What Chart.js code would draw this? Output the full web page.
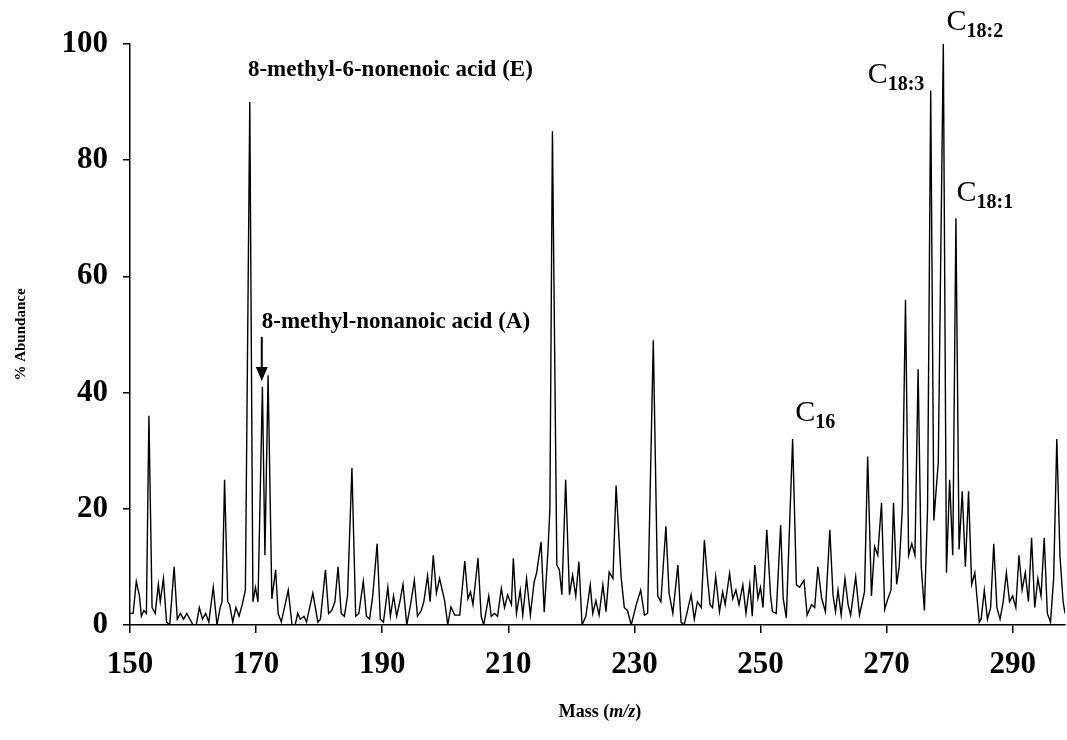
<!DOCTYPE html>
<html>
<head>
<meta charset="utf-8">
<script src="https://cdn.jsdelivr.net/npm/chart.js@4.4.0/dist/chart.umd.min.js"></script>
<style>
  html, body { margin: 0; padding: 0; background: #fff; }
  #contenedor { width: 1067px; height: 740px; }
</style>
</head>
<body>
<div id="contenedor"><canvas id="espectro" width="1067" height="740"></canvas></div>
<script>
const masa = [
  150.0, 150.5, 151.0, 151.5, 151.8, 152.2, 152.6, 153.0, 153.5, 154.0, 154.5, 154.8, 155.3, 155.8, 156.3, 157.0, 157.5, 158.0, 158.5, 159.0,
  159.5, 160.0, 160.5, 161.0, 161.5, 162.0, 162.5, 163.2, 163.8, 164.3, 164.6, 165.0, 165.5, 165.8, 166.3, 166.8, 167.3, 167.8, 168.3, 169.0,
  169.5, 169.9, 170.3, 171.0, 171.4, 171.9, 172.5, 173.1, 173.5, 174.0, 175.1, 175.7, 176.2, 176.6, 177.0, 177.6, 178.0, 179.0, 179.8, 180.2,
  181.0, 181.5, 182.0, 182.5, 183.0, 183.5, 184.0, 184.5, 185.2, 185.8, 186.3, 187.0, 187.5, 188.0, 188.5, 189.2, 189.7, 190.2, 190.9, 191.3,
  191.8, 192.3, 192.8, 193.3, 193.9, 194.5, 195.1, 195.6, 196.2, 196.6, 197.2, 197.6, 198.1, 198.6, 199.1, 199.9, 200.4, 200.9, 201.5, 202.3,
  203.1, 203.6, 204.0, 204.4, 205.2, 205.7, 206.1, 206.9, 207.3, 207.8, 208.3, 208.9, 209.4, 209.9, 210.5, 210.8, 211.3, 211.9, 212.3, 212.9,
  213.5, 214.1, 214.5, 215.2, 215.7, 216.3, 216.6, 217.0, 217.7, 218.1, 218.5, 219.1, 219.7, 220.2, 220.7, 221.2, 221.7, 222.3, 223.0, 223.4,
  223.9, 224.4, 225.0, 225.5, 226.0, 226.6, 227.1, 227.9, 228.4, 228.9, 229.5, 230.3, 231.0, 231.6, 232.1, 233.0, 233.7, 234.2, 235.0, 235.5,
  236.1, 236.9, 237.4, 237.9, 239.0, 239.5, 240.0, 240.6, 241.1, 241.6, 242.0, 242.4, 242.9, 243.5, 244.0, 244.4, 245.1, 245.6, 246.1, 246.6,
  247.2, 247.7, 248.3, 248.7, 249.1, 249.6, 250.0, 250.4, 251.0, 251.6, 251.9, 252.5, 253.2, 253.6, 254.1, 255.1, 255.7, 256.2, 256.9, 257.4,
  258.1, 258.6, 259.1, 259.7, 260.3, 261.0, 261.5, 261.9, 262.3, 262.8, 263.4, 263.9, 264.3, 265.1, 265.7, 266.5, 267.0, 267.6, 268.1, 268.6,
  269.2, 269.7, 270.2, 270.7, 271.1, 271.6, 272.0, 272.5, 273.0, 273.5, 274.0, 274.5, 275.0, 275.5, 276.0, 276.5, 277.0, 277.5, 278.2, 279.0,
  279.5, 280.0, 280.5, 281.0, 281.5, 282.0, 282.5, 283.0, 283.5, 284.0, 284.4, 284.7, 285.0, 285.5, 286.0, 286.5, 287.0, 287.5, 288.0, 288.5,
  289.0, 289.5, 290.0, 290.5, 291.0, 291.5, 292.0, 292.5, 293.0, 293.5, 294.0, 294.5, 295.0, 295.5, 296.0, 296.5, 297.0, 297.5, 298.0, 298.3
];

// % de abundancia en cada punto
const abundancia = [
  2, 2, 7.5, 5, 1.5, 2.5, 2, 36, 3, 2, 7, 4, 8, 0.5, 0, 10, 1, 2, 1, 2,
  1, 0, 0, 3, 1, 2, 0.5, 6.5, 0, 3, 4, 25, 4, 3.5, 0.5, 3, 1.5, 3.5, 6, 90,
  4, 6.5, 4, 41, 12, 43, 4.5, 9.5, 2, 0.5, 6, 0, 0, 2, 1, 1.5, 0.5, 5.5, 0.5, 1,
  9.5, 2, 2.5, 4, 10, 2, 1.5, 5, 27, 1.5, 2, 7.5, 1.5, 1, 5, 14, 1, 0.5, 6.5, 1.5,
  5, 1.5, 4, 7, 0, 3.5, 7.7, 1.5, 2.5, 4, 8.5, 4, 12, 5.5, 8, 4.2, 0, 3.1, 1.7, 1.7,
  11, 4.5, 5.7, 3.5, 11.5, 1.5, 0, 5, 1.5, 2, 1.5, 6.3, 3, 5.2, 3.5, 11.5, 2, 6, 1.7, 8,
  1.7, 7.4, 9, 14.3, 2.2, 13, 20, 85, 10.3, 9.5, 5.2, 25, 5.2, 8.6, 5, 10.9, 0, 1.5, 6.9, 2,
  4.2, 1.7, 6.9, 2.3, 9.1, 8, 24, 8.2, 3, 2.5, 0, 3.5, 6, 1.7, 2, 49, 5, 4, 17, 5.5,
  2, 10.3, 0.5, 0, 5.2, 1, 4, 3, 14.6, 8, 3.5, 3, 8.3, 2.3, 5.7, 3.5, 8.9, 4.5, 6, 3.5,
  6.9, 2, 7, 1.5, 10.3, 4.6, 6.5, 3, 16.4, 5, 2.3, 2, 17.2, 4.6, 1.2, 32, 6.9, 6.5, 7.7, 1.7,
  3.5, 3, 10, 4.6, 2.3, 16.4, 5.2, 2.3, 6, 1.7, 8, 3.5, 1.7, 8.3, 1.7, 5.7, 29, 5, 13.5, 12,
  21, 2.7, 4.5, 6, 21, 7, 10, 20, 56, 12, 14, 12, 44, 10, 2.5, 20, 92, 18, 28, 100,
  9, 25, 12, 70, 13, 23, 10, 23, 7, 9, 4, 0.5, 1, 6, 1, 3, 14, 3, 1, 4,
  9, 4, 5, 3, 12, 6, 9, 4, 15, 3, 8, 5, 15, 2, 0.5, 8, 32, 12, 4, 2
];

const ticksX = [150, 170, 190, 210, 230, 250, 270, 290];
const ticksY = [0, 20, 40, 60, 80, 100];

// Etiquetas de los picos (posición en unidades de los ejes)
const etiquetasTexto = [
  { texto: "8-methyl-6-nonenoic acid (E)", x: 168.7, y: 95.5 },
  { texto: "8-methyl-nonanoic acid (A)", x: 170.9, y: 52.2 }
];
const etiquetasC = [
  { sub: "16", x: 255.5, y: 36.5 },
  { sub: "18:3", x: 267.0, y: 94.7 },
  { sub: "18:2", x: 279.5, y: 103.8 },
  { sub: "18:1", x: 281.1, y: 74.4 }
];
const flecha = { x: 170.9, yInicio: 49.6, yFin: 42.0 };

const serif = '"Liberation Serif", "Times New Roman", serif';

// Plugin para las anotaciones y el título del eje X con cursiva
const anotaciones = {
  id: "anotaciones",
  afterDraw(chart) {
    const ctx = chart.ctx;
    const sx = chart.scales.x;
    const sy = chart.scales.y;
    ctx.save();
    ctx.fillStyle = "#000";
    ctx.strokeStyle = "#000";
    ctx.textBaseline = "middle";
    ctx.textAlign = "left";

    ctx.font = "bold 23px " + serif;
    etiquetasTexto.forEach((e) => {
      ctx.fillText(e.texto, sx.getPixelForValue(e.x), sy.getPixelForValue(e.y));
    });

    etiquetasC.forEach((e) => {
      const px = sx.getPixelForValue(e.x);
      const py = sy.getPixelForValue(e.y);
      ctx.font = "30px " + serif;
      ctx.fillText("C", px, py);
      const ancho = ctx.measureText("C").width;
      ctx.font = "bold 20px " + serif;
      ctx.fillText(e.sub, px + ancho, py + 10);
    });

    // Flecha hacia el pico del ácido (A)
    const fx = sx.getPixelForValue(flecha.x);
    const fy1 = sy.getPixelForValue(flecha.yInicio);
    const fy2 = sy.getPixelForValue(flecha.yFin);
    ctx.lineWidth = 2;
    ctx.beginPath();
    ctx.moveTo(fx, fy1);
    ctx.lineTo(fx, fy2 - 10);
    ctx.stroke();
    ctx.beginPath();
    ctx.moveTo(fx - 6, fy2 - 14);
    ctx.lineTo(fx + 6, fy2 - 14);
    ctx.lineTo(fx, fy2);
    ctx.closePath();
    ctx.fill();

    // Título del eje X: Mass (m/z)
    const partes = [
      { t: "Mass (", f: "bold 18px " + serif },
      { t: "m/z", f: "italic bold 18px " + serif },
      { t: ")", f: "bold 18px " + serif }
    ];
    let total = 0;
    partes.forEach((p) => { ctx.font = p.f; total += ctx.measureText(p.t).width; });
    let cx = 600 - total / 2;
    partes.forEach((p) => {
      ctx.font = p.f;
      ctx.fillText(p.t, cx, 712);
      cx += ctx.measureText(p.t).width;
    });
    ctx.restore();
  }
};

const ctx = document.getElementById("espectro").getContext("2d");
const puntos = masa.map((m, i) => ({ x: m, y: abundancia[i] }));

new Chart(ctx, {
  type: "line",
  data: {
    datasets: [{
      data: puntos,
      borderColor: "#000",
      borderWidth: 1.4,
      pointRadius: 0,
      tension: 0,
      fill: false
    }]
  },
  options: {
    responsive: false,
    animation: false,
    layout: { padding: { top: 44, right: 2, left: 0, bottom: 0 } },
    plugins: { legend: { display: false }, tooltip: { enabled: false } },
    scales: {
      x: {
        type: "linear",
        min: 150,
        max: 298.3,
        afterBuildTicks: (s) => { s.ticks = ticksX.map((v) => ({ value: v })); },
        afterFit: (s) => { s.height = 115; },
        grid: { drawOnChartArea: false, drawTicks: true, tickLength: 8, color: "#000", lineWidth: 1.5 },
        border: { display: true, color: "#000", width: 1.5 },
        ticks: { color: "#000", padding: 13, maxRotation: 0, font: { family: serif, size: 31, weight: "bold" } }
      },
      y: {
        min: 0,
        max: 100,
        afterBuildTicks: (s) => { s.ticks = ticksY.map((v) => ({ value: v })); },
        afterFit: (s) => { s.width = 130; },
        grid: { drawOnChartArea: false, drawTicks: true, tickLength: 7, color: "#000", lineWidth: 1.5 },
        border: { display: true, color: "#000", width: 1.5 },
        ticks: { color: "#000", padding: 15, font: { family: serif, size: 31, weight: "bold" } },
        title: { display: true, text: "% Abundance", color: "#000", padding: { top: 12, bottom: 0 }, font: { family: serif, size: 15, weight: "bold" } }
      }
    }
  },
  plugins: [anotaciones]
});
</script>
</body>
</html>
